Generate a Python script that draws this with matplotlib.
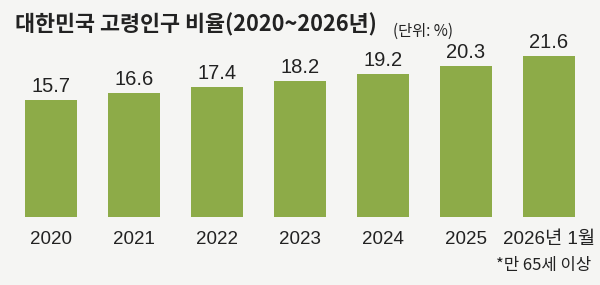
import matplotlib.pyplot as plt

years = ['2020', '2021', '2022', '2023', '2024', '2025', '2026년 1월']
ratios = [15.7, 16.6, 17.4, 18.2, 19.2, 20.3, 21.6]

title = '대한민국 고령인구 비율(2020~2026년)'
unit = '(단위: %)'
note = '*만 65세 이상'

fams = ['Liberation Sans', 'Noto Sans CJK KR', 'DejaVu Sans']
kr = ['Noto Sans CJK KR', 'DejaVu Sans']

bg = '#f5f5f3'
bar_color = '#8dab48'
txt = '#222222'

fig = plt.figure(figsize=(6, 2.85), dpi=100)
fig.patch.set_facecolor(bg)
ax = fig.add_axes([0, 68 / 285, 1, 217 / 285])
ax.set_facecolor(bg)

x = list(range(len(years)))
bars = ax.bar(x, ratios, width=0.615, color=bar_color)
ax.set_xlim(-51 / 83, (600 - 51) / 83)
ax.set_ylim(0, 217 / 7.45)

for rect, v in zip(bars, ratios):
    ax.annotate(f'{v}', (rect.get_x() + rect.get_width() / 2, v),
                xytext=(0, 3), textcoords='offset points', ha='center', va='bottom',
                fontsize=14.5, family=fams, color=txt)

ax.set_xticks(x)
ax.set_xticklabels(years, family=fams, fontsize=13.5, color=txt)
ax.tick_params(axis='x', length=0, pad=10)
ax.set_yticks([])
for s in ax.spines.values():
    s.set_visible(False)

fig.text(0.025, 0.915, title, fontsize=15.7, fontweight='bold', family=kr,
         color=txt, va='center', ha='left')
fig.text(0.655, 0.89, unit, fontsize=11, family=kr, color=txt, va='center', ha='left')
fig.text(0.985, 0.068, note, fontsize=12, family=kr, color=txt, va='center', ha='right')

fig.savefig('out.png', dpi=100, facecolor=bg)
